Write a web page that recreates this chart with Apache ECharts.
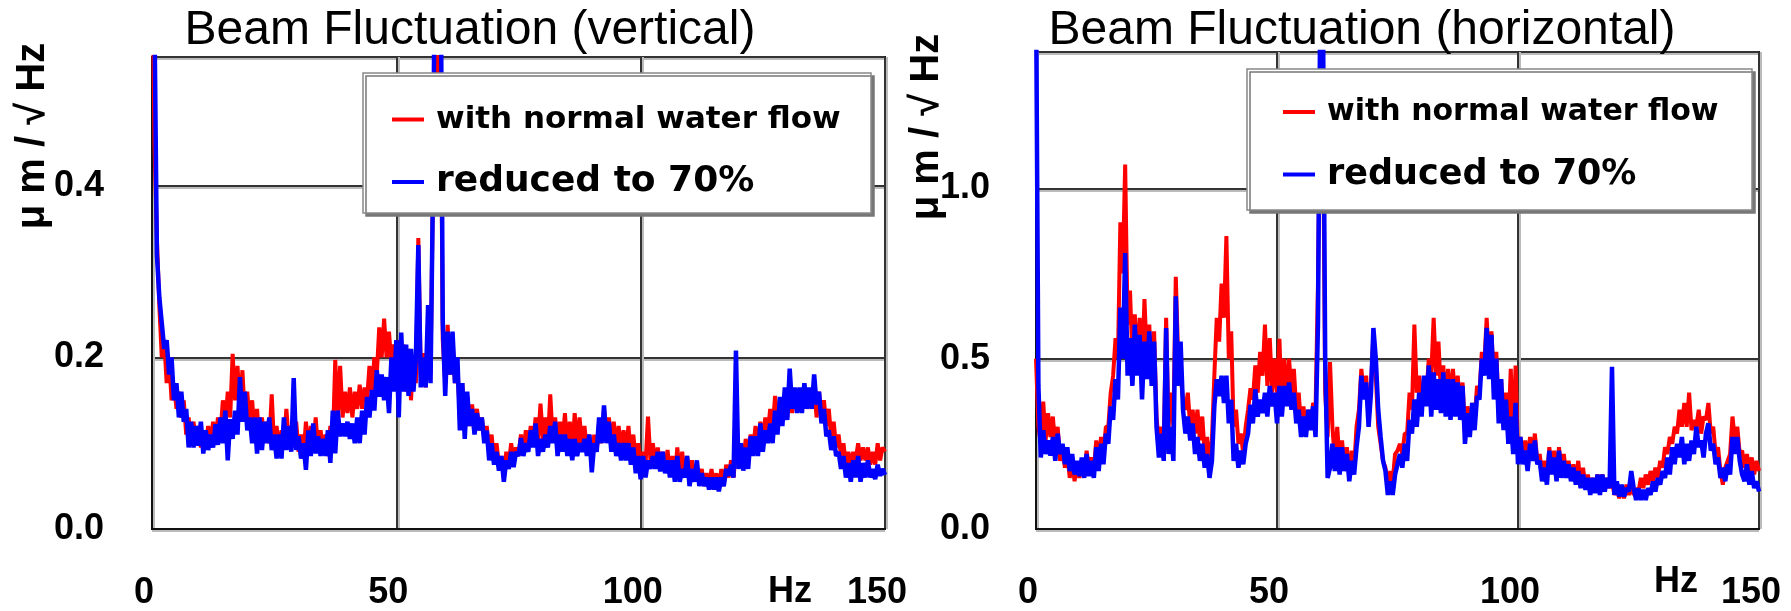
<!DOCTYPE html>
<html><head><meta charset="utf-8">
<script src="https://cdn.jsdelivr.net/npm/echarts@6/dist/echarts.min.js"></script>
<style>html,body{margin:0;padding:0;background:#fff}#c{width:1791px;height:611px}</style>
</head><body><div id="c"></div>
<script>
// frequency step of the sampled spectra (Hz)
const STEP = 0.5;
const xTickLabels = ['0', '50', '100', '150'];
const seriesNames = ['with normal water flow', 'reduced to 70%'];
const titles = ['Beam Fluctuation (vertical)', 'Beam Fluctuation (horizontal)'];
const yUnit = 'μ m / √ Hz';
const xUnit = 'Hz';

// vertical, normal flow (μm/√Hz), 0..150 Hz every 0.5 Hz
const vertNormal = [
0.7,0.45,0.34,0.26,0.2,0.22,0.17,0.2,0.15,0.17,
0.14,0.16,0.13,0.15,0.11,0.13,0.1,0.125,0.1,0.12,
0.095,0.115,0.1,0.12,0.1,0.125,0.105,0.13,0.11,0.15,
0.12,0.16,0.13,0.204,0.15,0.19,0.14,0.185,0.13,0.16,
0.12,0.15,0.11,0.14,0.1,0.13,0.105,0.125,0.1,0.157,
0.095,0.12,0.09,0.115,0.1,0.14,0.1,0.12,0.095,0.125,
0.09,0.11,0.085,0.125,0.09,0.12,0.095,0.13,0.09,0.115,
0.09,0.11,0.085,0.12,0.1,0.197,0.13,0.19,0.13,0.16,
0.135,0.165,0.13,0.16,0.14,0.168,0.14,0.165,0.15,0.19,
0.16,0.2,0.18,0.235,0.2,0.245,0.2,0.23,0.19,0.215,
0.18,0.22,0.17,0.215,0.16,0.21,0.15,0.2,0.17,0.339,
0.18,0.205,0.165,0.23,0.18,0.4,0.6,0.5,0.6,0.22,
0.17,0.238,0.18,0.22,0.17,0.19,0.13,0.17,0.12,0.155,
0.12,0.145,0.12,0.14,0.115,0.13,0.105,0.12,0.09,0.11,
0.08,0.1,0.075,0.085,0.06,0.09,0.075,0.1,0.08,0.095,
0.085,0.11,0.09,0.115,0.095,0.12,0.1,0.13,0.1,0.146,
0.105,0.13,0.1,0.157,0.105,0.13,0.1,0.125,0.1,0.135,
0.095,0.125,0.09,0.135,0.095,0.13,0.095,0.12,0.09,0.11,
0.075,0.11,0.09,0.125,0.1,0.14,0.11,0.13,0.1,0.125,
0.095,0.12,0.09,0.115,0.09,0.12,0.085,0.11,0.08,0.1,
0.075,0.09,0.075,0.131,0.08,0.1,0.075,0.095,0.075,0.09,
0.07,0.092,0.065,0.085,0.06,0.095,0.065,0.09,0.06,0.085,
0.06,0.08,0.055,0.075,0.055,0.07,0.05,0.065,0.05,0.07,
0.05,0.065,0.045,0.07,0.05,0.075,0.06,0.08,0.06,0.09,
0.075,0.1,0.08,0.105,0.085,0.11,0.09,0.12,0.095,0.125,
0.1,0.13,0.11,0.14,0.115,0.155,0.12,0.15,0.125,0.16,
0.13,0.165,0.135,0.16,0.14,0.16,0.14,0.165,0.14,0.16,
0.14,0.165,0.13,0.16,0.13,0.15,0.12,0.14,0.105,0.125,
0.095,0.11,0.085,0.1,0.075,0.09,0.075,0.09,0.08,0.1,
0.08,0.095,0.08,0.095,0.075,0.09,0.075,0.1,0.08,0.095,
0.09];

// vertical, reduced to 70%
const vertReduced = [
0.9,0.6,0.32,0.27,0.24,0.21,0.22,0.18,0.2,0.15,
0.17,0.13,0.16,0.125,0.14,0.095,0.125,0.095,0.12,0.097,
0.125,0.088,0.115,0.092,0.11,0.095,0.122,0.098,0.13,0.1,
0.138,0.08,0.128,0.105,0.138,0.11,0.177,0.125,0.16,0.115,
0.13,0.1,0.13,0.088,0.13,0.092,0.125,0.1,0.13,0.092,
0.11,0.082,0.11,0.082,0.13,0.092,0.12,0.09,0.176,0.092,
0.108,0.082,0.1,0.069,0.115,0.085,0.123,0.088,0.108,0.085,
0.105,0.085,0.115,0.077,0.138,0.088,0.138,0.108,0.123,0.108,
0.125,0.105,0.123,0.1,0.13,0.1,0.138,0.11,0.154,0.13,
0.162,0.138,0.185,0.154,0.18,0.15,0.177,0.135,0.2,0.16,
0.22,0.13,0.229,0.16,0.215,0.155,0.21,0.16,0.2,0.331,
0.165,0.2,0.165,0.261,0.17,0.4,0.75,0.6,0.75,0.243,
0.155,0.23,0.18,0.23,0.17,0.2,0.115,0.17,0.105,0.16,
0.12,0.14,0.11,0.135,0.115,0.13,0.1,0.115,0.08,0.1,
0.075,0.09,0.068,0.085,0.055,0.08,0.07,0.09,0.072,0.09,
0.085,0.106,0.085,0.1,0.09,0.115,0.095,0.123,0.085,0.105,
0.09,0.11,0.095,0.12,0.1,0.125,0.085,0.11,0.09,0.11,
0.085,0.105,0.08,0.105,0.085,0.1,0.09,0.105,0.085,0.11,
0.066,0.1,0.09,0.13,0.1,0.144,0.1,0.125,0.09,0.11,
0.085,0.1,0.08,0.1,0.08,0.1,0.075,0.095,0.065,0.085,
0.058,0.085,0.06,0.08,0.07,0.085,0.07,0.09,0.067,0.09,
0.065,0.08,0.06,0.08,0.055,0.085,0.055,0.07,0.06,0.085,
0.05,0.07,0.055,0.08,0.05,0.065,0.05,0.06,0.046,0.06,
0.046,0.06,0.044,0.06,0.05,0.07,0.062,0.075,0.06,0.208,
0.07,0.1,0.068,0.095,0.07,0.108,0.085,0.108,0.085,0.123,
0.09,0.115,0.1,0.123,0.1,0.138,0.11,0.154,0.12,0.165,
0.127,0.187,0.14,0.165,0.135,0.165,0.135,0.17,0.14,0.165,
0.14,0.18,0.145,0.16,0.123,0.14,0.108,0.115,0.092,0.108,
0.085,0.09,0.07,0.085,0.06,0.077,0.055,0.08,0.06,0.085,
0.055,0.077,0.06,0.08,0.06,0.07,0.058,0.075,0.062,0.07,
0.063];

// horizontal, normal flow
const horizNormal = [
0.5,0.3,0.25,0.374,0.26,0.34,0.27,0.33,0.24,0.3,
0.2,0.24,0.18,0.22,0.15,0.2,0.14,0.19,0.15,0.2,
0.16,0.23,0.17,0.21,0.17,0.26,0.2,0.27,0.22,0.3,
0.3,0.4,0.45,0.56,0.5,0.9,0.75,1.07,0.6,0.7,
0.5,0.63,0.48,0.62,0.45,0.675,0.5,0.6,0.45,0.58,
0.33,0.25,0.3,0.24,0.62,0.3,0.4,0.3,0.74,0.5,
0.45,0.38,0.35,0.4,0.3,0.35,0.28,0.35,0.26,0.33,
0.22,0.27,0.2,0.26,0.45,0.62,0.55,0.72,0.62,0.86,
0.5,0.58,0.3,0.35,0.25,0.28,0.22,0.3,0.35,0.413,
0.38,0.48,0.4,0.52,0.45,0.6,0.42,0.56,0.4,0.5,
0.4,0.558,0.35,0.5,0.38,0.5,0.4,0.47,0.35,0.4,
0.3,0.36,0.28,0.35,0.3,0.37,0.35,0.72,1.3,1.3,
0.4,0.27,0.49,0.3,0.2,0.3,0.19,0.26,0.18,0.24,
0.15,0.23,0.18,0.3,0.35,0.47,0.4,0.45,0.32,0.42,
0.57,0.45,0.3,0.25,0.2,0.18,0.13,0.17,0.14,0.22,
0.23,0.25,0.22,0.28,0.28,0.4,0.35,0.6,0.4,0.45,
0.38,0.43,0.4,0.5,0.45,0.62,0.45,0.55,0.4,0.48,
0.38,0.47,0.37,0.47,0.38,0.45,0.35,0.43,0.28,0.36,
0.3,0.37,0.32,0.42,0.4,0.52,0.48,0.62,0.48,0.58,
0.42,0.52,0.35,0.44,0.3,0.4,0.28,0.47,0.25,0.48,
0.22,0.27,0.21,0.26,0.2,0.27,0.22,0.28,0.2,0.22,
0.16,0.2,0.15,0.24,0.17,0.23,0.16,0.24,0.17,0.22,
0.16,0.2,0.15,0.19,0.14,0.2,0.13,0.18,0.12,0.16,
0.11,0.15,0.11,0.16,0.11,0.16,0.12,0.15,0.12,0.14,
0.1,0.12,0.09,0.12,0.09,0.13,0.1,0.13,0.1,0.12,
0.11,0.15,0.12,0.16,0.13,0.17,0.14,0.18,0.15,0.2,
0.18,0.24,0.22,0.27,0.25,0.3,0.28,0.35,0.3,0.37,
0.3,0.4,0.29,0.32,0.3,0.35,0.28,0.33,0.32,0.37,
0.28,0.3,0.22,0.24,0.17,0.13,0.18,0.2,0.22,0.33,
0.26,0.3,0.22,0.23,0.18,0.22,0.17,0.21,0.16,0.2,
0.17];

// horizontal, reduced to 70%
const horizReduced = [
1.6,0.42,0.21,0.29,0.22,0.26,0.215,0.27,0.2,0.28,
0.22,0.25,0.19,0.24,0.17,0.22,0.16,0.2,0.155,0.21,
0.15,0.22,0.155,0.2,0.15,0.24,0.17,0.25,0.19,0.28,
0.25,0.36,0.32,0.44,0.38,0.65,0.5,0.81,0.45,0.56,
0.42,0.6,0.45,0.57,0.38,0.55,0.44,0.58,0.42,0.55,
0.3,0.21,0.28,0.2,0.59,0.22,0.3,0.2,0.683,0.42,
0.55,0.35,0.28,0.33,0.26,0.31,0.22,0.27,0.2,0.25,
0.18,0.22,0.15,0.2,0.36,0.44,0.39,0.45,0.37,0.45,
0.31,0.38,0.2,0.25,0.18,0.23,0.19,0.25,0.28,0.365,
0.31,0.41,0.33,0.38,0.34,0.4,0.33,0.42,0.36,0.4,
0.31,0.42,0.33,0.42,0.36,0.43,0.35,0.4,0.31,0.35,
0.27,0.33,0.27,0.35,0.29,0.36,0.27,0.6,1.6,1.6,
0.5,0.15,0.18,0.25,0.17,0.24,0.16,0.24,0.17,0.22,
0.14,0.2,0.16,0.24,0.3,0.45,0.38,0.43,0.3,0.4,
0.59,0.5,0.35,0.27,0.2,0.17,0.1,0.14,0.1,0.16,
0.19,0.22,0.18,0.25,0.2,0.32,0.28,0.38,0.3,0.4,
0.33,0.45,0.36,0.48,0.33,0.46,0.35,0.44,0.34,0.46,
0.33,0.44,0.32,0.44,0.33,0.43,0.32,0.42,0.25,0.34,
0.27,0.37,0.29,0.39,0.38,0.5,0.45,0.59,0.44,0.57,
0.38,0.5,0.31,0.44,0.29,0.38,0.25,0.33,0.22,0.37,
0.19,0.27,0.19,0.23,0.17,0.25,0.2,0.26,0.19,0.2,
0.14,0.18,0.13,0.23,0.16,0.21,0.14,0.23,0.15,0.2,
0.15,0.19,0.14,0.18,0.13,0.17,0.12,0.16,0.115,0.15,
0.1,0.15,0.105,0.16,0.1,0.16,0.11,0.15,0.12,0.476,
0.1,0.14,0.095,0.13,0.095,0.12,0.11,0.17,0.12,0.085,
0.12,0.085,0.115,0.085,0.12,0.1,0.14,0.11,0.15,0.13,
0.17,0.15,0.21,0.16,0.24,0.19,0.25,0.21,0.27,0.19,
0.25,0.2,0.26,0.22,0.3,0.24,0.26,0.21,0.28,0.31,
0.23,0.25,0.19,0.21,0.15,0.18,0.14,0.19,0.16,0.27,
0.22,0.27,0.2,0.16,0.14,0.19,0.13,0.17,0.12,0.14,
0.11];

function pairs(arr) { return arr.map((v, i) => [i * STEP, v]); }

const RED = '#ff0000', BLUE = '#0000ff';
const tickFont = { fontFamily: 'Liberation Sans, Arial, sans-serif', fontWeight: 'bold', fontSize: 36, color: '#000' };

function xAxis(gi) {
  return {
    gridIndex: gi, type: 'value', min: 0, max: 150, interval: 50,
    axisLine: { show: true, lineStyle: { color: '#111', width: 2 } },
    axisTick: { show: false },
    splitLine: { show: true, lineStyle: { color: '#333', width: 2, shadowColor: '#bbb', shadowOffsetX: 2 } },
    axisLabel: Object.assign({ margin: 46, padding: [0, 16, 0, 0],
      formatter: v => xTickLabels[Math.round(v / 50)] }, tickFont)
  };
}
function yAxis(gi, max, interval, margin) {
  return {
    gridIndex: gi, type: 'value', min: 0, max: max, interval: interval,
    axisLine: { show: true, lineStyle: { color: '#111', width: 2 } },
    axisTick: { show: false },
    splitLine: { show: true, lineStyle: { color: '#333', width: 2, shadowColor: '#bbb', shadowOffsetY: 2 } },
    axisLabel: Object.assign({ margin: margin, showMaxLabel: false,
      formatter: v => v.toFixed(1) }, tickFont)
  };
}
function line(gi, name, data, color, width, z) {
  return {
    type: 'line', name: name, xAxisIndex: gi, yAxisIndex: gi, data: pairs(data),
    symbol: 'none', showSymbol: false, animation: false, clip: true, z: z,
    lineStyle: { color: color, width: width }, itemStyle: { color: color }
  };
}
function legend(left, top, gap, fs1, fs2) {
  return {
    left: left, top: top, orient: 'vertical', padding: 0, itemGap: gap,
    itemWidth: 32, itemHeight: 4, icon: 'rect', selectedMode: false, z: 20,
    textStyle: { fontFamily: 'DejaVu Sans, sans-serif', fontWeight: 'bold', color: '#000', padding: [0, 0, 0, 7] },
    data: [
      { name: seriesNames[0], textStyle: { fontSize: fs1 } },
      { name: seriesNames[1], textStyle: { fontSize: fs2 } }
    ]
  };
}
function txt(x, y, text, font, rot) {
  return {
    type: 'text', x: x, y: y, rotation: rot || 0, z: 30,
    style: { text: text, x: 0, y: 0, font: font, fill: '#000',
      align: 'center', verticalAlign: 'middle', textAlign: 'center', textVerticalAlign: 'middle' }
  };
}
function box(x, y, w, h) {
  return {
    type: 'rect', z: 15, shape: { x: x, y: y, width: w, height: h },
    style: { fill: '#fff', stroke: '#888', lineWidth: 1.5, shadowColor: '#777', shadowOffsetX: 3, shadowOffsetY: 3, shadowBlur: 0 }
  };
}

const chart = echarts.init(document.getElementById('c'), null, { renderer: 'canvas' });
const titleFont = '48px "Liberation Sans", Arial, sans-serif';
const unitFont = 'bold 40px "Liberation Sans Narrow", "Liberation Sans", sans-serif';
const hzFont = 'bold 36px "Liberation Sans", Arial, sans-serif';
chart.setOption({
  backgroundColor: '#fff',
  animation: false,
  grid: [
    { left: 152, top: 57, width: 733, height: 476, show: true, borderColor: '#111', borderWidth: 2 },
    { left: 1036, top: 52, width: 723, height: 485, show: true, borderColor: '#111', borderWidth: 2 }
  ],
  xAxis: [xAxis(0), xAxis(1)],
  yAxis: [yAxis(0, 0.55, 0.2, 48), yAxis(1, 1.4, 0.5, 46)],
  legend: [legend(392, 104, 29, 31, 36), legend(1283, 97, 30, 30, 35)],
  series: [
    line(0, seriesNames[0], vertNormal, RED, 4, 2),
    line(0, seriesNames[1], vertReduced, BLUE, 4.5, 3),
    line(1, seriesNames[0], horizNormal, RED, 4, 2),
    line(1, seriesNames[1], horizReduced, BLUE, 4.5, 3)
  ],
  graphic: { elements: [
    box(363, 73, 508, 140),
    box(1247, 69, 505, 141),
    txt(470, 31, titles[0], titleFont),
    txt(1362, 31, titles[1], titleFont),
    txt(790, 592, xUnit, hzFont),
    txt(1676, 582, xUnit, hzFont),
    txt(33, 136, yUnit, unitFont, Math.PI / 2),
    txt(927, 127, yUnit, unitFont, Math.PI / 2)
  ] }
});
</script></body></html>
